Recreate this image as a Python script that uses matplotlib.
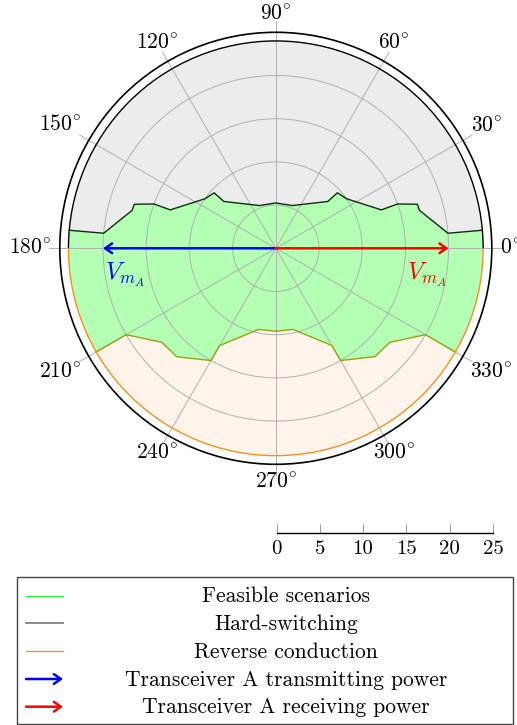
import numpy as np
import matplotlib
matplotlib.use('Agg')
import matplotlib.pyplot as plt
import matplotlib.patches as patches

plt.rcParams['font.family'] = 'cmr10'
plt.rcParams['mathtext.fontset'] = 'cm'
plt.rcParams['axes.formatter.use_mathtext'] = True

# hard-switching boundary (upper half): angle [deg], radius
hs_theta = [5, 5, 14.8, 17.3, 20, 20, 35, 42, 42, 69, 90, 111, 138, 138, 145, 160, 160, 162.7, 165.2, 175, 175]
hs_r = [24, 20, 17.2, 17.15, 15, 13, 10, 9.6, 8.1, 5.3, 5.25, 5.3, 8.1, 9.6, 10, 13, 15, 17.15, 17.2, 20, 24]
# reverse-conduction boundary (lower half)
rc_theta = [210, 210, 219.5, 227.6, 240, 240, 258, 270, 282, 300, 300, 312.5, 320.5, 330, 330]
rc_r = [24, 20, 17.1, 17.0, 15, 13, 9.6, 9.6, 9.6, 13, 15, 17.0, 17.1, 20, 24]

r_max = 24
r_axis = 25
r_grid = [5, 10, 15, 20]
theta_ticks = list(range(0, 360, 30))
theta_labels = [f'${t}^{{\\!\\circ}}$' for t in theta_ticks]
scale_ticks = [0, 5, 10, 15, 20, 25]
v_len = 20

legend_labels = ['Feasible scenarios', 'Hard-switching', 'Reverse conduction',
                 'Transceiver A transmitting power', 'Transceiver A receiving power']

c_green_fill = '#b3ffb3'
c_gray_fill = '#ececec'
c_orange_fill = '#fff4ea'
c_hs_line = '#0c2e0c'
c_rc_line = '#96a30c'
c_orange = '#ff8c1a'
c_grid = '#b0b0b0'


def to_xy(theta_deg, r):
    t = np.radians(np.asarray(theta_deg, dtype=float))
    r = np.asarray(r, dtype=float)
    return r * np.cos(t), r * np.sin(t)


W, H = 517, 725
fig = plt.figure(figsize=(W / 100, H / 100), dpi=100)

# main polar drawing, equal scale in both directions
s = 8.64
cx, cy = 275.8, 248.3
ax = fig.add_axes([0, 0, 1, 1])
ax.set_xlim(-cx / s, (W - cx) / s)
ax.set_ylim(-(H - cy) / s, cy / s)
ax.axis('off')

# regions
ax.add_patch(patches.Wedge((0, 0), r_max, 0, 180, facecolor=c_gray_fill, edgecolor='none', zorder=1))
ax.add_patch(patches.Wedge((0, 0), r_max, 180, 360, facecolor=c_orange_fill, edgecolor='none', zorder=1))

# feasible area = disc clipped by polygon of both boundaries
clip_theta = hs_theta + rc_theta
clip_r = np.where(np.array(hs_r + rc_r) >= r_max, r_max * 1.35, hs_r + rc_r)
px, py = to_xy(clip_theta, clip_r)
clip_poly = patches.Polygon(np.column_stack([px, py]), closed=True, transform=ax.transData)
green = patches.Circle((0, 0), r_max, facecolor=c_green_fill, edgecolor='none', zorder=2)
ax.add_patch(green)
green.set_clip_path(clip_poly)

# grid
for r in r_grid:
    ax.add_patch(patches.Circle((0, 0), r, fill=False, edgecolor=c_grid, linewidth=0.7, zorder=3))
for t in theta_ticks:
    gx, gy = to_xy([t, t], [0, r_axis + 1.2])
    ax.plot(gx, gy, color=c_grid, linewidth=0.7, zorder=3)

# boundaries
hx, hy = to_xy(hs_theta, hs_r)
ax.plot(hx, hy, color=c_hs_line, linewidth=1.0, zorder=4)
bx, by = to_xy(rc_theta, rc_r)
ax.plot(bx, by, color=c_rc_line, linewidth=1.0, zorder=4)
ax.add_patch(patches.Arc((0, 0), 2 * r_max, 2 * r_max, theta1=0, theta2=180, color='black', linewidth=1.0, zorder=4))
ax.add_patch(patches.Arc((0, 0), 2 * r_max, 2 * r_max, theta1=180, theta2=360, color=c_orange, linewidth=1.0, zorder=4))
ax.add_patch(patches.Circle((0, 0), r_axis, fill=False, edgecolor='black', linewidth=1.2, zorder=4))

# voltage vectors
for ang, col, ha in [(180, 'blue', 'left'), (0, 'red', 'right')]:
    tx, ty = to_xy(ang, v_len)
    ax.annotate('', xy=(tx, ty), xytext=(0, 0),
                arrowprops=dict(arrowstyle='->,head_length=0.5,head_width=0.35', color=col,
                                lw=1.8, shrinkA=0, shrinkB=0), zorder=5)
    ax.text(tx - np.sign(tx) * 0.2, -1.45, r'$V_{m_A}$', color=col, fontsize=17.5,
            ha=ha, va='top', zorder=5)

# angle labels, anchored on their inner side like pgfplots (with inner sep)
fig.canvas.draw()
renderer = fig.canvas.get_renderer()
r_lab = 220 / s
inner_sep = 4.6
for t, lab in zip(theta_ticks, theta_labels):
    lx, ly = to_xy(t, r_lab)
    txt = ax.text(lx, ly, lab, fontsize=15.5, ha='center', va='center', zorder=5)
    bb = txt.get_window_extent(renderer)
    c, sn = np.cos(np.radians(t)), np.sin(np.radians(t))
    kx = (bb.width / 2 + inner_sep) / abs(c) if abs(c) > 1e-6 else np.inf
    ky = (bb.height / 2 + inner_sep) / abs(sn) if abs(sn) > 1e-6 else np.inf
    k = min(kx, ky) / s
    txt.set_position((lx + c * k, ly + sn * k))

# radial scale bar
sax = fig.add_axes([276.5 / W, (H - 532.7) / H, 216.5 / W, 0.0001])
sax.set_xlim(0, 25)
sax.set_xticks(scale_ticks)
sax.set_xticklabels([str(v) for v in scale_ticks])
sax.set_yticks([])
for side in ['left', 'right', 'top']:
    sax.spines[side].set_visible(False)
sax.spines['bottom'].set_linewidth(1.0)
sax.tick_params(axis='x', direction='in', length=6.5, width=0.7, color='#999999',
                labelsize=15, pad=5)
sax.patch.set_visible(False)

# legend
lax = fig.add_axes([0, 0, 1, 1])
lax.set_xlim(0, W)
lax.set_ylim(H, 0)
lax.axis('off')
lax.patch.set_visible(False)
lax.add_patch(patches.Rectangle((17.3, 577.3), 495.7, 147, fill=False, edgecolor='#444444', linewidth=1.0))
row_y = [595.7, 623.3, 651, 679, 706.7]
handles = [('line', '#22ee22', 0.9), ('line', '#808080', 1.3), ('line', c_orange, 0.9),
           ('arrow', 'blue', 1.8), ('arrow', 'red', 1.8)]
for (kind, col, lw), y, lab in zip(handles, row_y, legend_labels):
    if kind == 'line':
        lax.plot([26, 63], [y, y], color=col, linewidth=lw)
    else:
        lax.annotate('', xy=(63, y), xytext=(26, y),
                     arrowprops=dict(arrowstyle='->,head_length=0.5,head_width=0.35', color=col,
                                     lw=lw, shrinkA=0, shrinkB=0))
    lax.text(286, y + 6.5, lab, fontsize=15.5, ha='center', va='baseline')

fig.savefig('out.png', dpi=100)
